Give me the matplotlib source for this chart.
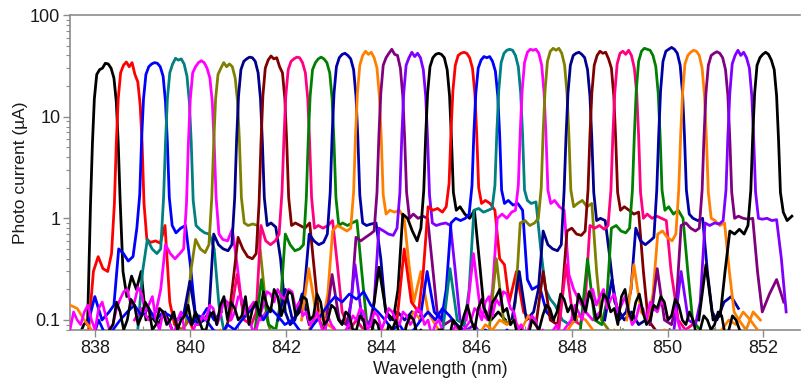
import numpy as np
import matplotlib
matplotlib.use('Agg')
import matplotlib.pyplot as plt
from matplotlib.ticker import LogLocator, NullFormatter

plt.rcParams['font.family'] = ['Liberation Sans', 'DejaVu Sans']

# peak wavelength of every filter channel (nm), left to right
centre_nm = [838.22, 838.72, 839.25, 839.75, 840.23, 840.76, 841.24, 841.75,
             842.23, 842.74, 843.24, 843.73, 844.22, 844.70, 845.20, 845.73,
             846.21, 846.69, 847.18, 847.66, 848.14, 848.64, 849.12, 849.57,
             850.08, 850.54, 851.03, 851.53, 852.05]

# sampling points of each channel trace, relative to its centre (nm)
offset_nm = [-1.4, -1.25, -1.1, -0.95, -0.85, -0.75, -0.65, -0.55, -0.45, -0.37,
             -0.31, -0.27, -0.23, -0.18, -0.12, -0.06, 0.0, 0.06, 0.12, 0.18, 0.23, 0.27, 0.31,
             0.37, 0.45, 0.55, 0.65, 0.75, 0.85, 0.95, 1.1, 1.25, 1.4]

# photo current of each channel (uA) at the points above
ch01 = [0.06, 0.06, 0.06, 0.06, 0.06, 0.06, 0.06, 0.07, 0.09, 0.1,
        1.4, 5.5, 15, 26, 29, 30, 33.5, 33, 30, 24, 14, 5.5, 1.5,
        0.3, 0.17, 0.27, 0.2, 0.3, 0.1, 0.11, 0.09, 0.12, 0.08]
ch02 = [0.05, 0.05, 0.06, 0.07, 0.08, 0.3, 0.42, 0.32, 0.3, 0.45,
        1.4, 5.5, 15, 27, 32, 34.5, 31, 34, 26, 22, 13, 5.5, 1.4,
        0.62, 0.58, 0.6, 0.57, 0.85, 0.15, 0.09, 0.08, 0.1, 0.07]
ch03 = [0.09, 0.17, 0.1, 0.12, 0.14, 0.5, 0.45, 0.38, 0.42, 0.8,
        1.7, 6, 15, 26, 31, 33, 34, 33.5, 31, 25, 14, 5.5, 1.6,
        0.85, 0.72, 0.8, 0.85, 0.35, 0.12, 0.1, 0.13, 0.1, 0.12]
ch04 = [0.06, 0.07, 0.06, 0.07, 0.08, 0.3, 0.62, 0.5, 0.45, 0.5,
        1.6, 5.5, 15, 27, 33, 37.5, 36, 37, 33, 25, 14, 5.5, 1.5,
        0.85, 0.78, 0.72, 0.7, 0.5, 0.14, 0.08, 0.07, 0.06, 0.07]
ch05 = [0.1, 0.13, 0.1, 0.12, 0.2, 0.55, 0.45, 0.4, 0.45, 0.5,
        1.4, 5.5, 15, 27, 31, 34, 35.5, 34, 30, 24, 14, 5.5, 1.6,
        0.7, 0.62, 0.6, 0.78, 0.35, 0.14, 0.12, 0.15, 0.1, 0.13]
ch06 = [0.06, 0.07, 0.06, 0.08, 0.09, 0.3, 0.62, 0.5, 0.46, 0.55,
        1.6, 5.5, 15, 26, 30, 34, 31, 33, 31, 24, 14, 5.5, 1.6,
        0.9, 0.85, 0.88, 0.85, 0.3, 0.1, 0.07, 0.06, 0.07, 0.06]
ch07 = [0.1, 0.24, 0.09, 0.1, 0.12, 0.7, 0.55, 0.5, 0.48, 0.55,
        1.6, 6, 16, 29, 35, 37, 38.5, 38, 35, 27, 15, 5.5, 1.6,
        0.85, 0.9, 0.82, 0.4, 0.12, 0.09, 0.1, 0.18, 0.09, 0.1]
ch08 = [0.06, 0.07, 0.06, 0.1, 0.25, 0.65, 0.5, 0.42, 0.4, 0.45,
        1.4, 5.5, 16, 30, 36, 39.5, 37, 38, 31, 27, 15, 5.5, 1.6,
        0.85, 0.9, 0.85, 0.8, 0.9, 0.3, 0.1, 0.07, 0.06, 0.07]
ch09 = [0.1, 0.28, 0.1, 0.09, 0.12, 0.85, 0.6, 0.55, 0.6, 0.7,
        1.8, 6, 16, 29, 35, 37, 38.5, 38, 34, 27, 15, 5.5, 1.6,
        0.8, 0.85, 0.8, 0.85, 0.95, 0.35, 0.12, 0.08, 0.1, 0.08]
ch10 = [0.07, 0.25, 0.09, 0.08, 0.15, 0.7, 0.55, 0.48, 0.5, 0.55,
        1.6, 6, 16, 29, 34, 37, 38.5, 37, 34, 27, 15, 5.5, 1.6,
        0.85, 0.9, 0.85, 0.9, 0.95, 0.3, 0.1, 0.08, 0.07, 0.08]
ch11 = [0.1, 0.2, 0.1, 0.12, 0.2, 0.7, 0.6, 0.55, 0.58, 0.7,
        1.8, 6.5, 17, 31, 38, 41, 42, 40, 37, 29, 16, 6, 1.7,
        0.9, 0.85, 0.88, 0.9, 0.4, 0.12, 0.1, 0.12, 0.1, 0.12]
ch12 = [0.1, 0.32, 0.12, 0.1, 0.18, 0.75, 0.85, 0.8, 0.75, 0.8,
        1.8, 6.5, 17, 32, 40, 44, 41, 43, 38, 30, 16, 6, 1.7,
        1.1, 1.2, 1.15, 1.2, 1.0, 0.35, 0.15, 0.3, 0.12, 0.1]
ch13 = [0.08, 0.28, 0.1, 0.09, 0.15, 0.65, 0.6, 0.65, 0.7, 0.75,
        1.8, 6.5, 17, 32, 38, 42, 46, 41, 40, 30, 16, 6, 1.8,
        1.0, 1.1, 1.0, 1.05, 1.0, 0.35, 0.12, 0.09, 0.1, 0.08]
ch14 = [0.08, 0.35, 0.1, 0.09, 0.15, 0.8, 0.75, 0.7, 0.68, 0.8,
        1.8, 6.5, 17, 32, 38, 43, 39, 42, 38, 29, 16, 6, 1.7,
        0.9, 0.85, 0.88, 0.9, 0.85, 0.3, 0.1, 0.08, 0.09, 0.07]
ch15 = [0.1, 0.33, 0.12, 0.1, 0.2, 1.1, 1.0, 0.75, 0.6, 0.8,
        1.9, 6.5, 17, 31, 38, 41, 42, 41, 38, 29, 16, 6, 1.8,
        1.2, 1.3, 1.1, 1.0, 1.2, 0.4, 0.13, 0.1, 0.12, 0.1]
ch16 = [0.1, 0.5, 0.15, 0.12, 0.3, 1.3, 1.2, 1.25, 1.15, 1.3,
        2.2, 7, 18, 32, 40, 42, 43, 42, 38, 30, 17, 6.5, 2.0,
        1.4, 1.5, 1.4, 1.2, 0.4, 0.35, 0.15, 0.3, 0.12, 0.1]
ch17 = [0.1, 0.3, 0.12, 0.1, 0.2, 0.9, 1.0, 0.95, 1.0, 1.1,
        2.1, 7, 17, 30, 36, 39, 38, 39, 35, 28, 16, 6.5, 1.9,
        1.4, 1.5, 1.35, 1.4, 1.2, 0.25, 0.2, 0.22, 0.12, 0.1]
ch18 = [0.08, 0.32, 0.1, 0.09, 0.2, 1.2, 1.25, 1.15, 1.2, 1.25,
        2.1, 7, 18, 34, 42, 45, 46, 45, 40, 31, 17, 6.5, 1.9,
        1.5, 1.4, 1.45, 0.5, 0.2, 0.16, 0.14, 0.1, 0.09, 0.1]
ch19 = [0.1, 0.45, 0.12, 0.1, 0.2, 1.0, 1.1, 1.0, 1.15, 1.2,
        2.1, 7, 18, 34, 43, 46, 45, 46, 42, 32, 17, 6.5, 1.9,
        1.4, 1.5, 1.3, 1.2, 0.28, 0.2, 0.16, 0.12, 0.1, 0.12]
ch20 = [0.08, 0.4, 0.1, 0.09, 0.15, 0.9, 0.95, 0.85, 0.9, 1.0,
        2.0, 7, 18, 35, 44, 47, 45, 47, 42, 32, 17, 6.5, 1.9,
        1.3, 1.4, 1.5, 1.3, 1.4, 0.3, 0.1, 0.08, 0.07, 0.08]
ch21 = [0.1, 0.3, 0.1, 0.12, 0.2, 0.75, 0.55, 0.5, 0.48, 0.55,
        1.9, 6.5, 17, 32, 40, 42, 43, 41, 38, 29, 16, 6, 1.8,
        0.95, 1.0, 0.95, 0.4, 0.15, 0.12, 0.1, 0.12, 0.09, 0.1]
ch22 = [0.09, 0.3, 0.1, 0.09, 0.18, 0.75, 0.8, 0.7, 0.68, 0.75,
        1.9, 6.5, 17, 32, 40, 44, 42, 43, 37, 30, 16, 6, 1.8,
        1.2, 1.3, 1.2, 1.1, 1.15, 0.3, 0.1, 0.08, 0.07, 0.08]
ch23 = [0.08, 0.35, 0.1, 0.09, 0.15, 0.85, 0.8, 0.85, 0.78, 0.85,
        1.9, 6.5, 17, 33, 42, 44, 41, 45, 40, 30, 17, 6.5, 1.8,
        1.0, 1.1, 1.0, 1.05, 1.0, 0.95, 0.3, 0.1, 0.08, 0.09]
ch24 = [0.08, 0.4, 0.1, 0.09, 0.15, 0.8, 0.85, 0.75, 0.72, 0.8,
        1.9, 6.5, 18, 35, 44, 47, 46, 45, 40, 31, 17, 6.5, 1.9,
        1.2, 1.3, 1.1, 1.2, 1.0, 0.3, 0.1, 0.08, 0.07, 0.08]
ch25 = [0.1, 0.25, 0.1, 0.12, 0.2, 0.8, 0.6, 0.55, 0.6, 0.65,
        1.9, 6.5, 18, 35, 44, 46, 48, 46, 42, 32, 17, 6.5, 1.9,
        1.1, 1.0, 0.95, 1.0, 0.3, 0.12, 0.1, 0.15, 0.17, 0.13]
ch26 = [0.1, 0.35, 0.12, 0.1, 0.18, 0.7, 0.75, 0.65, 0.6, 0.7,
        1.9, 6.5, 17, 33, 40, 43, 45, 44, 40, 30, 16, 6, 1.8,
        1.0, 0.95, 0.85, 0.9, 0.3, 0.12, 0.1, 0.08, 0.12, 0.1]
ch27 = [0.09, 0.32, 0.1, 0.09, 0.15, 0.85, 0.9, 0.8, 0.75, 0.8,
        1.9, 6.5, 17, 32, 40, 42, 43.5, 42, 38, 29, 16, 6, 1.8,
        1.0, 1.05, 1.0, 0.98, 1.0, 0.3, 0.12, 0.18, 0.25, 0.15]
ch28 = [0.08, 0.3, 0.1, 0.09, 0.15, 0.9, 0.85, 0.9, 0.88, 0.95,
        1.9, 6.5, 17, 33, 40, 45, 40, 43, 38, 30, 16, 6, 1.8,
        1.0, 0.98, 1.0, 0.95, 0.97, 0.4, 0.12, 0.1, 0.08, 0.08]
ch29 = [0.1, 0.35, 0.1, 0.11, 0.3, 0.75, 0.7, 0.78, 0.7, 0.85,
        1.9, 6.5, 17, 32, 38, 41, 43, 41, 36, 29, 16, 6, 1.8,
        1.15, 0.95, 1.05, 1.0, 1.0, 1.0, 1.0, 1.0, 1.0, 1.0]

channels = [ch01, ch02, ch03, ch04, ch05, ch06, ch07, ch08, ch09, ch10,
            ch11, ch12, ch13, ch14, ch15, ch16, ch17, ch18, ch19, ch20,
            ch21, ch22, ch23, ch24, ch25, ch26, ch27, ch28, ch29]

# background noise of the black and magenta traces, every 0.075 nm from 837.48 nm
noise_black = [0.05, 0.04, 0.06, 0.05, 0.05, 0.06, 0.07, 0.05, 0.06, 0.07, 0.05, 0.08, 0.09, 0.15, 0.12, 0.08, 0.1, 0.16, 0.14, 0.09,
               0.11, 0.15, 0.13, 0.08, 0.09, 0.13, 0.12, 0.09, 0.1, 0.12, 0.08, 0.1, 0.11, 0.14, 0.09, 0.12, 0.1, 0.08, 0.08, 0.11,
               0.12, 0.09, 0.14, 0.17, 0.1, 0.15, 0.13, 0.1, 0.11, 0.17, 0.09, 0.13, 0.15, 0.11, 0.19, 0.14, 0.12, 0.2, 0.17, 0.11,
               0.14, 0.19, 0.18, 0.11, 0.12, 0.17, 0.16, 0.1, 0.11, 0.18, 0.15, 0.09, 0.1, 0.14, 0.13, 0.1, 0.09, 0.12, 0.11, 0.08,
               0.08, 0.11, 0.1, 0.06, 0.07, 0.1, 0.09, 0.06, 0.06, 0.09, 0.08, 0.1, 0.07, 0.06, 0.09, 0.11, 0.1, 0.07, 0.08, 0.06,
               0.07, 0.05, 0.06, 0.08, 0.08, 0.06, 0.07, 0.1, 0.09, 0.08, 0.11, 0.14, 0.1, 0.08, 0.13, 0.16, 0.12, 0.1, 0.15, 0.17,
               0.2, 0.12, 0.13, 0.09, 0.1, 0.07, 0.08, 0.06, 0.07, 0.1, 0.09, 0.08, 0.11, 0.14, 0.13, 0.1, 0.12, 0.18, 0.16, 0.12,
               0.14, 0.1, 0.18, 0.15, 0.12, 0.19, 0.15, 0.1, 0.11, 0.18, 0.16, 0.12, 0.13, 0.09, 0.17, 0.2, 0.12, 0.1, 0.15, 0.18,
               0.12, 0.09, 0.1, 0.14, 0.13, 0.17, 0.15, 0.1, 0.11, 0.16, 0.14, 0.1, 0.09, 0.12, 0.1, 0.07, 0.08, 0.11, 0.1, 0.08,
               0.09, 0.12, 0.11, 0.07, 0.08, 0.11, 0.1, 0.08, 0.07, 0.06, 0.06, 0.07, 0.07, 0.05, 0.06, 0.05, 0.05, 0.06, 0.06, 0.05, 0.05]
noise_magenta = [0.08, 0.12, 0.1, 0.09, 0.12, 0.14, 0.1, 0.08, 0.13, 0.15, 0.11, 0.08, 0.09, 0.13, 0.16, 0.19, 0.2, 0.14, 0.15, 0.21,
                 0.18, 0.12, 0.14, 0.17, 0.1, 0.08, 0.12, 0.1, 0.09, 0.07, 0.1, 0.12, 0.08, 0.06, 0.07, 0.09, 0.09, 0.11, 0.1, 0.14,
                 0.13, 0.09, 0.11, 0.16, 0.15, 0.1, 0.12, 0.17, 0.16, 0.12, 0.1, 0.08, 0.08, 0.11, 0.14, 0.19, 0.18, 0.15, 0.2, 0.17,
                 0.16, 0.2, 0.19, 0.13, 0.15, 0.11, 0.12, 0.09, 0.1, 0.12, 0.09, 0.07, 0.11, 0.09, 0.08, 0.06, 0.07, 0.08, 0.09, 0.11,
                 0.1, 0.13, 0.12, 0.08, 0.09, 0.12, 0.11, 0.08, 0.1, 0.13, 0.12, 0.1, 0.09, 0.12, 0.11, 0.09, 0.1, 0.13, 0.12, 0.09,
                 0.1, 0.07, 0.09, 0.1, 0.08, 0.06, 0.07, 0.08, 0.09, 0.07, 0.08, 0.09, 0.1, 0.13, 0.12, 0.1, 0.15, 0.17, 0.11, 0.16,
                 0.14, 0.19, 0.18, 0.13, 0.12, 0.08, 0.09, 0.07, 0.08, 0.11, 0.1, 0.07, 0.08, 0.06, 0.07, 0.08, 0.09, 0.06, 0.08, 0.09,
                 0.1, 0.14, 0.12, 0.1, 0.15, 0.19, 0.2, 0.14, 0.17, 0.2, 0.13, 0.16, 0.18, 0.12, 0.14, 0.17, 0.12, 0.09, 0.1, 0.14,
                 0.13, 0.1, 0.15, 0.13, 0.12, 0.15, 0.14, 0.1, 0.11, 0.13, 0.09, 0.07, 0.08, 0.06, 0.07, 0.05, 0.06, 0.07, 0.07, 0.05,
                 0.06, 0.05, 0.07, 0.05, 0.06, 0.04, 0.05, 0.06, 0.06, 0.05, 0.05, 0.04, 0.06, 0.05, 0.05, 0.06, 0.06, 0.04, 0.05, 0.05, 0.06]

# background noise of the blue and orange traces, every 0.15 nm from 837.48 nm
noise_blue = [0.05, 0.06, 0.07, 0.06, 0.1, 0.07, 0.08, 0.1, 0.12, 0.14,
              0.11, 0.13, 0.1, 0.12, 0.11, 0.1, 0.12, 0.09, 0.11, 0.1,
              0.08, 0.07, 0.09, 0.08, 0.1, 0.12, 0.14, 0.1, 0.13, 0.11,
              0.09, 0.1, 0.08, 0.07, 0.09, 0.11, 0.14, 0.17, 0.15, 0.18,
              0.16, 0.19, 0.14, 0.12, 0.1, 0.08, 0.09, 0.07, 0.08, 0.1,
              0.12, 0.1, 0.13, 0.11, 0.09, 0.08, 0.07, 0.06, 0.08, 0.07,
              0.06, 0.08, 0.07, 0.06, 0.05, 0.06, 0.05, 0.06, 0.05, 0.06,
              0.05, 0.06, 0.05, 0.06, 0.05, 0.06, 0.05, 0.06, 0.05, 0.06,
              0.05, 0.06, 0.05, 0.06, 0.05, 0.06, 0.05, 0.06, 0.05, 0.06,
              0.05, 0.06, 0.05, 0.06, 0.05, 0.06, 0.05, 0.06, 0.05, 0.06, 0.05]
noise_orange = [0.14, 0.13, 0.1, 0.08, 0.07, 0.06, 0.05, 0.06, 0.05, 0.06,
                0.05, 0.06, 0.05, 0.07, 0.06, 0.05, 0.06, 0.05, 0.06, 0.07,
                0.06, 0.08, 0.07, 0.06, 0.05, 0.06, 0.07, 0.06, 0.05, 0.06,
                0.07, 0.06, 0.08, 0.07, 0.1, 0.12, 0.09, 0.08, 0.07, 0.06,
                0.05, 0.06, 0.07, 0.06, 0.08, 0.07, 0.06, 0.09, 0.12, 0.1,
                0.12, 0.09, 0.07, 0.06, 0.08, 0.07, 0.06, 0.07, 0.09, 0.08,
                0.1, 0.09, 0.1, 0.08, 0.11, 0.09, 0.07, 0.06, 0.08, 0.07,
                0.09, 0.11, 0.1, 0.08, 0.07, 0.06, 0.08, 0.07, 0.06, 0.07,
                0.06, 0.07, 0.06, 0.08, 0.07, 0.06, 0.05, 0.06, 0.05, 0.06,
                0.07, 0.08, 0.1, 0.09, 0.12, 0.1, 0.08, 0.07, 0.06, 0.05, 0.06]

# colour cycle of the 14 traces, repeated
trace_colours = ['#000000', '#ff0000', '#0000ff', '#008080', '#ff00ff', '#808000',
                 '#00008b', '#800000', '#ff0080', '#008000', '#0000a8', '#ff8000',
                 '#800080', '#8000ff']

last_nm = 852.6

fig = plt.figure(figsize=(8.01, 3.78), dpi=100)
ax = fig.add_axes([70 / 801, 48 / 378, 730 / 801, 315 / 378])

for i, (c, row) in enumerate(zip(centre_nm, channels)):
    x = c + np.array(offset_nm)
    y = np.array(row, dtype=float)
    keep = x <= last_nm
    ax.plot(x[keep], y[keep], color=trace_colours[i % 14], lw=2.0,
            solid_joinstyle='round', zorder=2)

coarse_wl = 837.48 + 0.15 * np.arange(len(noise_blue))
fine_wl = 837.48 + 0.075 * np.arange(len(noise_black))
ax.plot(coarse_wl, noise_orange, color='#ff8000', lw=1.9, zorder=3)
ax.plot(coarse_wl, noise_blue, color='#0000ff', lw=1.9, zorder=3)
ax.plot(fine_wl, noise_magenta, color='#ff00ff', lw=1.9, zorder=3)
ax.plot(fine_wl, noise_black, color='#000000', lw=1.9, zorder=3)

ax.set_yscale('log')
ax.set_ylim(0.0797, 100)
ax.set_xlim(837.48, 852.77)

ax.set_xticks(np.arange(838, 853, 2))
ax.set_xticks(np.arange(839, 853, 2), minor=True)
ax.set_yticks([0.1, 1, 10, 100])
ax.set_yticklabels(['0.1', '1', '10', '100'])
ax.yaxis.set_minor_locator(LogLocator(base=10, subs=np.arange(2, 10)))
ax.yaxis.set_minor_formatter(NullFormatter())

grey = '#8c8c8c'
for side in ['left', 'bottom', 'top']:
    ax.spines[side].set_color(grey)
    ax.spines[side].set_linewidth(1.2)
ax.spines['right'].set_visible(False)

ax.tick_params(axis='both', which='major', labelsize=13, colors=grey,
               labelcolor='#1a1a1a', length=5, width=1)
ax.tick_params(axis='both', which='minor', colors=grey, length=3, width=0.8)
ax.tick_params(axis='x', which='minor', direction='in')
ax.tick_params(axis='x', which='major', pad=2)
ax.tick_params(axis='y', which='major', pad=2)

ax.set_xlabel('Wavelength (nm)', fontsize=12.8, color='#1a1a1a')
ax.set_ylabel('Photo current (µA)', fontsize=12.5, color='#1a1a1a')
ax.xaxis.set_label_coords(0.507, -0.1)
ax.yaxis.set_label_coords(-0.058, 0.5)

fig.savefig('out.png', dpi=100)
